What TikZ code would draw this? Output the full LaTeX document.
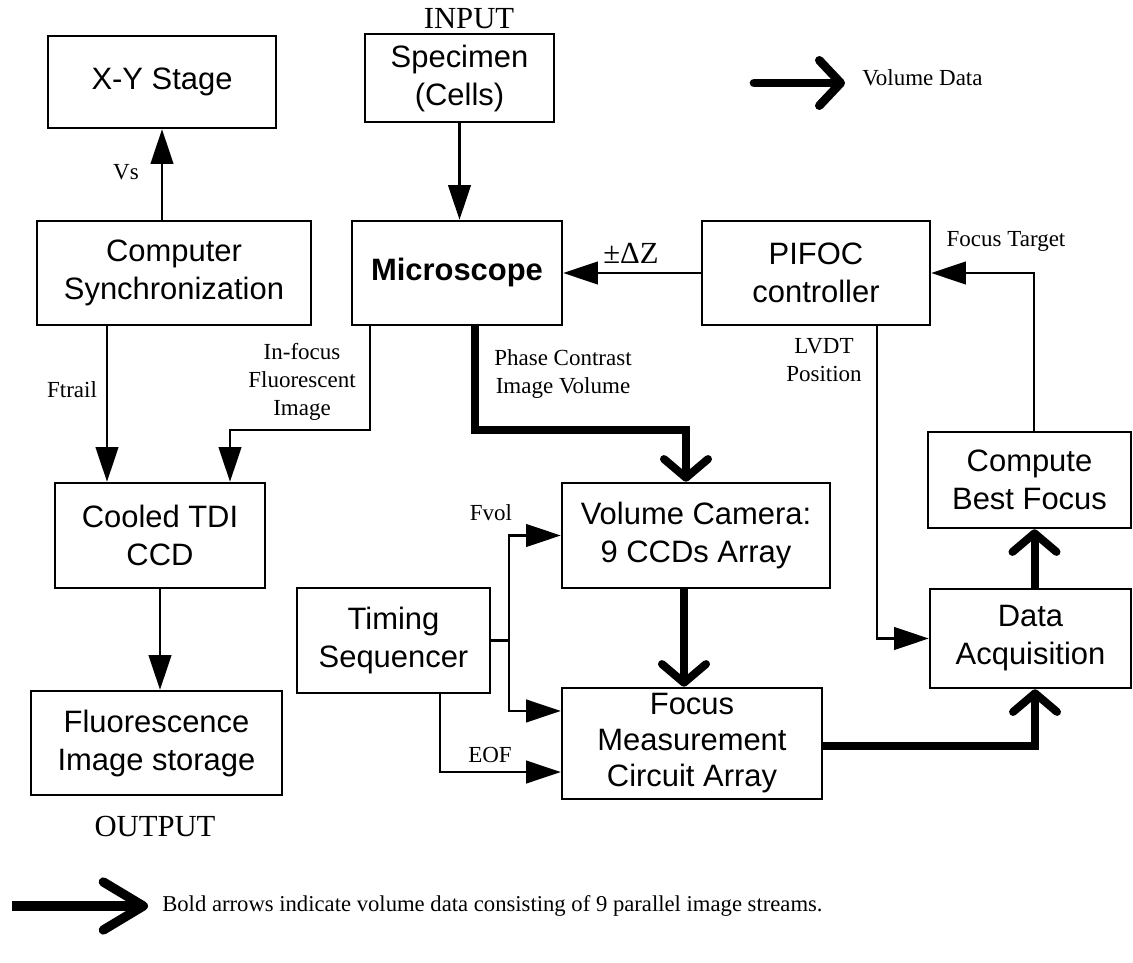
\documentclass[tikz,border=0pt]{standalone}
\usepackage{fontspec}
\setmainfont{Liberation Serif}
\newfontfamily\arialfont{Liberation Sans}
\usetikzlibrary{arrows.meta,calc}
\newcommand\bxfont{\arialfont\fontsize{23.2}{28.5}\selectfont}
\newcommand\lbfont{\fontsize{17.25}{20.8}\selectfont}
\newcommand\bigserif{\fontsize{23}{26}\selectfont}
\newcommand\legfont{\fontsize{17}{20}\selectfont}
\begin{document}
\begin{tikzpicture}[x=0.75pt,y=-0.75pt,
  box/.style={draw, line width=1.9pt, font=\bxfont, align=center, inner sep=0pt},
  lbl/.style={font=\lbfont, align=center, inner sep=0pt},
  thinarr/.style={line width=1.6pt, -{Triangle[length=26pt,width=17pt]}},
  boldarr/.style={line width=6pt, -{Straight Barb[length=14pt,width=33pt,round]}},
]
\useasboundingbox (0,0) rectangle (1133,963);

% boxes
\node[box, minimum width=171pt, minimum height=69pt] (xy) at (162,82) {X-Y Stage};
\node[box, minimum width=205.5pt, minimum height=78pt] (cs) at (174,273) {Computer\\Synchronization};
\node[box, minimum width=141.75pt, minimum height=66pt] (sp) at (459.5,78) {Specimen\\(Cells)};
\node[box, minimum width=157.5pt, minimum height=78pt, font=\bxfont\bfseries] (mic) at (457,273) {Microscope};
\node[box, minimum width=171pt, minimum height=78pt] (pifoc) at (816,273) {PIFOC\\controller};
\node[box, minimum width=157.5pt, minimum height=78.75pt] (ccd) at (160,535.5) {Cooled TDI\\CCD};
\node[box, minimum width=188.25pt, minimum height=78pt] (fl) at (156.5,743) {Fluorescence\\Image storage};
\node[box, minimum width=144.75pt, minimum height=78.75pt] (ts) at (393.5,640.5) {Timing\\Sequencer};
\node[box, minimum width=201pt, minimum height=78.75pt] (vc) at (696,535.5) {Volume Camera:\\9 CCDs Array};
\node[box, minimum width=195pt, minimum height=83.25pt, font=\arialfont\fontsize{23.2}{27}\selectfont] (fm) at (692,743.5) {Focus\\Measurement\\Circuit Array};
\node[box, minimum width=152.25pt, minimum height=72pt] (cbf) at (1029.5,480) {Compute\\Best Focus};
\node[box, minimum width=150.75pt, minimum height=74.25pt] (da) at (1030.5,638.5) {Data\\Acquisition};

% labels
\node[lbl, font=\bigserif] (inp) at (469,19) {INPUT};
\node[lbl, font=\bigserif] (outp) at (155,826) {OUTPUT};
\node[lbl] (vs) at (126,172) {Vs};
\node[lbl, anchor=west] (vd) at (862,78) {Volume Data};
\node[lbl, font=\bigserif] (dz) at (631,253) {±ΔZ};
\node[lbl] (ft) at (1006,241) {Focus Target};
\node[lbl] (ftr) at (72,390) {Ftrail};
\node[lbl] (inf) at (302,382) {In-focus\\Fluorescent\\Image};
\node[lbl] (pc) at (563,374) {Phase Contrast\\Image Volume};
\node[lbl] (lv) at (824,360) {LVDT\\Position};
\node[lbl] (fv) at (491,513) {Fvol};
\node[lbl] (eof) at (490,755) {EOF};
\node[lbl, anchor=west, font=\legfont] (leg) at (162,906) {Bold arrows indicate volume data consisting of 9 parallel image streams.};

% thin connectors
\draw[thinarr] (xy.south |- cs.north) -- (xy.south);
\draw[thinarr] (sp.south) -- (sp.south |- mic.north);
\draw[thinarr] (pifoc.west) -- (mic.east);
\draw[thinarr] ([xshift=3.4pt]cbf.north) |- (pifoc.east);
\draw[thinarr] ([xshift=45.75pt]pifoc.south) |- (da.west);
\coordinate (a1) at (370,430);
\draw[thinarr] (a1 |- mic.south) -- (a1) -| ([xshift=52.5pt]ccd.north);
\coordinate (ftb) at ([xshift=-39.75pt]ccd.north);
\draw[thinarr] (ftb |- cs.south) -- (ftb);
\draw[thinarr] (ccd.south) -- (ccd.south |- fl.north);
\coordinate (br) at (509,640.5);
\draw[thinarr] (ts.east) -- (br) |- (vc.west);
\draw[thinarr] (br) |- ([yshift=24.4pt]fm.west);
\coordinate (eb) at ([xshift=34.9pt]ts.south);
\draw[thinarr] (eb) |- ([yshift=-21.4pt]fm.west);

% bold connectors
\coordinate (b1) at (475,430);
\draw[boldarr] (b1 |- mic.south) -- (b1) -| ([xshift=-7.5pt]vc.north);
\coordinate (b2) at ([xshift=-9pt]vc.south);
\draw[boldarr] (b2) -- (b2 |- fm.north);
\draw[boldarr] ([yshift=-2pt]fm.east) -| ([xshift=3.4pt]da.south);
\coordinate (b3) at ([xshift=3pt]da.north);
\draw[boldarr] (b3) -- (b3 |- cbf.south);

% legends
\coordinate (l1) at (754,83);
\coordinate (l2) at (845,83);
\draw[line width=6.5pt, line cap=round, -{Straight Barb[length=16pt,width=34pt,round]}] (l1) -- (l2);
\coordinate (l3) at (12,906);
\coordinate (l4) at (148,906);
\draw[line width=7pt, -{Straight Barb[length=30pt,width=36pt,round]}] (l3) -- (l4);
\end{tikzpicture}
\end{document}
